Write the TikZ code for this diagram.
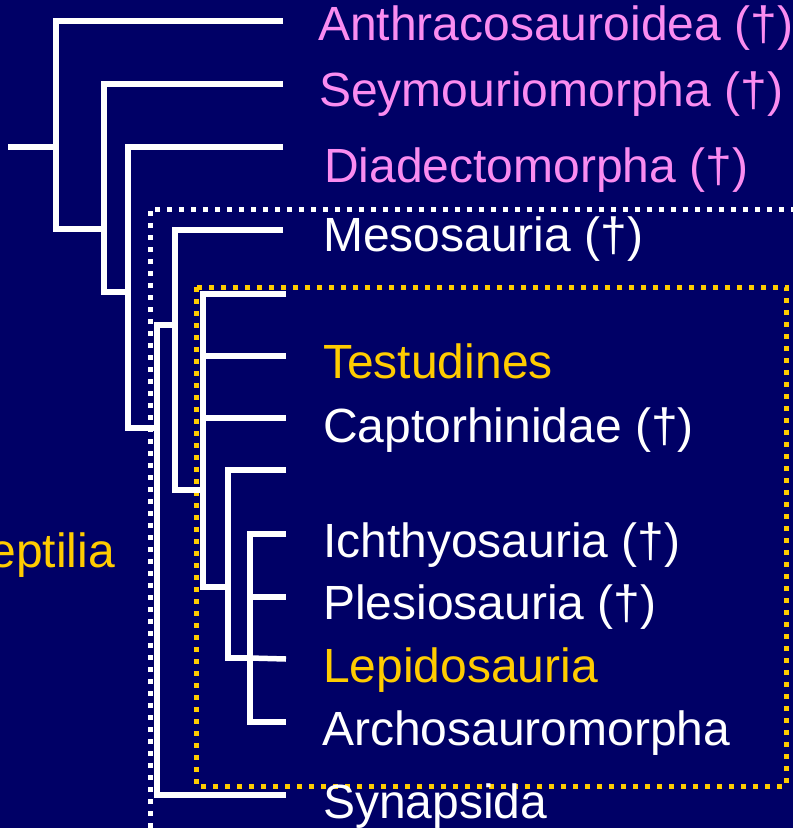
\documentclass[tikz,border=0pt]{standalone}
\usepackage{fontspec}
\setmainfont{Liberation Sans}
\definecolor{navy}{RGB}{0,0,102}
\definecolor{pinkt}{RGB}{250,140,240}
\definecolor{gold}{RGB}{255,204,0}
\begin{document}
\begin{tikzpicture}[x=1pt,y=-1pt,
  br/.style={white,line width=5.5pt,line join=miter},
  dotline/.style={line width=5pt,dash pattern=on 5pt off 7pt},
  lab/.style={anchor=base west,inner sep=0pt,font=\fontsize{48}{50}\selectfont},
  extinct/.style={lab,text=pinkt},
  plain/.style={lab,text=white},
  hl/.style={lab,text=gold}]
\useasboundingbox (0,0) rectangle (793,828);
\clip (0,0) rectangle (793,828);
\fill[navy] (0,0) rectangle (793,828);

% boxes
\draw[white,dotline] (150,840) -- (150,209) -- (800,209);
\draw[gold,dotline] (196,287) rectangle (786,786);

% coordinates
\coordinate (rootL) at (8,147);
\coordinate (rootR) at (56,147);
\coordinate (Atop) at (56,21);   \coordinate (Abot) at (56,229);
\coordinate (Btop) at (104,84);  \coordinate (Bj) at (104,229); \coordinate (Bbot) at (104,292);
\coordinate (Ctop) at (128,147); \coordinate (Cj) at (128,292); \coordinate (Cbot) at (128,428);
\coordinate (Amtop) at (157,325); \coordinate (Amj) at (157,428); \coordinate (Ambot) at (157,795);
\coordinate (Mtop) at (175,230); \coordinate (Mj) at (175,325); \coordinate (Mbot) at (175,490);
\coordinate (Rtop) at (203,294); \coordinate (Rj) at (203,490); \coordinate (Rbot) at (203,587);
\coordinate (Rt) at (203,356); \coordinate (Rc) at (203,418);
\coordinate (Qtop) at (228,470); \coordinate (Qj) at (228,587); \coordinate (Qbot) at (228,658);
\coordinate (Ltop) at (250,534); \coordinate (Lp) at (250,597); \coordinate (Lj) at (250,658); \coordinate (Lbot) at (250,722);
\coordinate (tAnth) at (283,21);
\coordinate (tSey) at (283,84);
\coordinate (tDia) at (283,147);
\coordinate (tMes) at (283,230);
\coordinate (tR0) at (286,294);
\coordinate (tTes) at (286,356);
\coordinate (tCap) at (286,418);
\coordinate (tQ0) at (286,470);
\coordinate (tIch) at (286,534);
\coordinate (tPle) at (286,597);
\coordinate (tLep) at (286,659);
\coordinate (tArc) at (286,722);
\coordinate (tSyn) at (286,795);

% tree
\draw[br] (rootL) -- (rootR);
\draw[br] (tAnth) -- (Atop) -- (Abot) -- (Bj);
\draw[br] (tSey) -- (Btop) -- (Bbot) -- (Cj);
\draw[br] (tDia) -- (Ctop) -- (Cbot) -- (Amj);
\draw[br] (Mj) -- (Amtop) -- (Ambot) -- (tSyn);
\draw[br] (tMes) -- (Mtop) -- (Mbot) -- (Rj);
\draw[br] (tR0) -- (Rtop) -- (Rbot) -- (Qj);
\draw[br] (Rt) -- (tTes);
\draw[br] (Rc) -- (tCap);
\draw[br] (tQ0) -- (Qtop) -- (Qbot) -- (Lj);
\draw[br] (tIch) -- (Ltop) -- (Lbot) -- (tArc);
\draw[br] (Lp) -- (tPle);
\draw[br] (Lj) -- (tLep);

% labels
\node[extinct] (anth) at (318,40) {Anthracosauroidea (†)};
\node[extinct] (sey) at (319,106) {Seymouriomorpha (†)};
\node[extinct] (dia) at (324,182) {Diadectomorpha (†)};
\node[plain] (mes) at (323,251) {Mesosauria (†)};
\node[hl] (tes) at (323,378) {Testudines};
\node[plain] (cap) at (323,442) {Captorhinidae (†)};
\node[plain] (ich) at (323,557) {Ichthyosauria (†)};
\node[plain] (ple) at (323,619) {Plesiosauria (†)};
\node[hl] (lep) at (323,682) {Lepidosauria};
\node[plain] (arc) at (322,745) {Archosauromorpha};
\node[plain] (syn) at (323,818) {Synapsida};
\node[lab,anchor=base east,text=gold] (rep) at (115,567) {Reptilia};
\end{tikzpicture}
\end{document}
